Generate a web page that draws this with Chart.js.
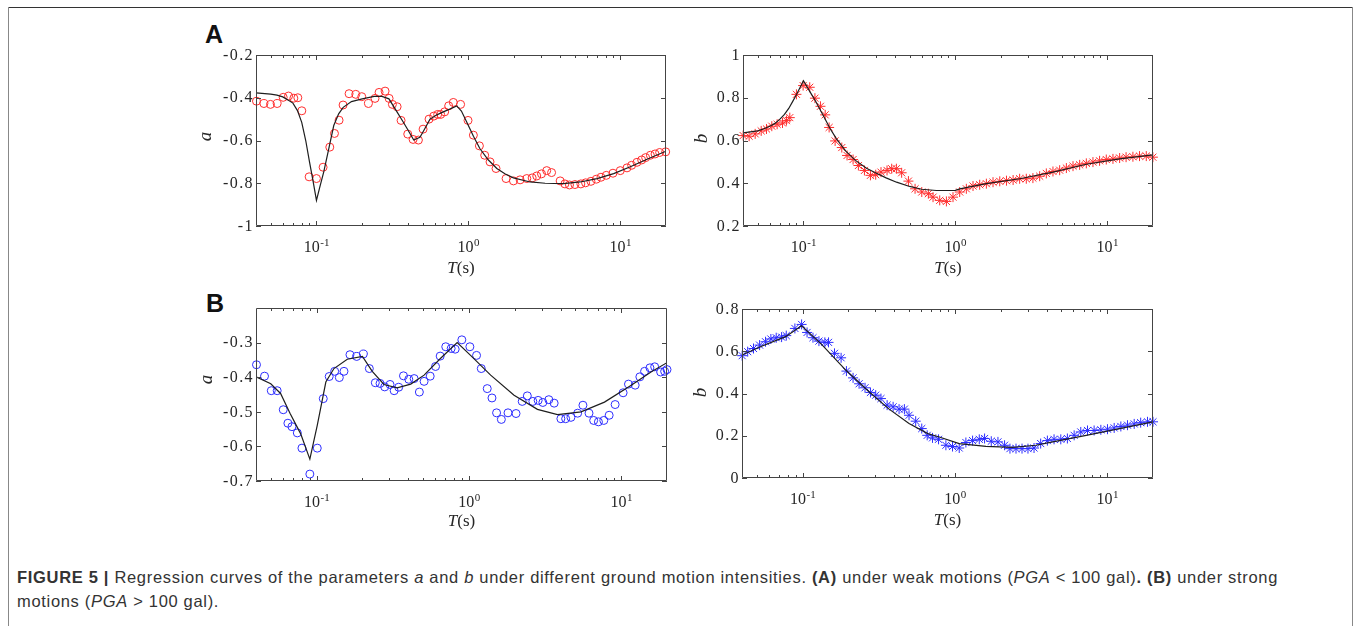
<!DOCTYPE html>
<html>
<head>
<meta charset="utf-8">
<script src="https://cdn.jsdelivr.net/npm/chart.js@4.4.1/dist/chart.umd.min.js"></script>
<style>
  body { margin: 0; background: #fff; }
  #fig { position: relative; width: 1356px; height: 626px; overflow: hidden; background: #fff; }
  #fig canvas { position: absolute; }
  .linea { position: absolute; }
  .letra { position: absolute; font: bold 25px "Liberation Sans", Arial, sans-serif; line-height: 25px; color: #111; }
  #caption { position: absolute; left: 17px; top: 565px; font: 16.5px "Liberation Sans", Arial, sans-serif;
             line-height: 24px; color: #333; white-space: nowrap; }
</style>
</head>
<body>
<div id="fig">
  <div class="linea" style="left:8px;top:7px;width:1345px;height:1px;background:#333"></div>
  <div class="linea" style="left:8px;top:7px;width:1px;height:630px;background:#888"></div>
  <div class="linea" style="left:1352px;top:7px;width:1px;height:630px;background:#888"></div>

  <div class="letra" style="left:205px;top:22px">A</div>
  <div class="letra" style="left:206px;top:291px">B</div>

  <canvas id="chartAa"></canvas>
  <canvas id="chartAb"></canvas>
  <canvas id="chartBa"></canvas>
  <canvas id="chartBb"></canvas>

  <div id="caption"><span id="line1"><b>FIGURE 5 |</b> Regression curves of the parameters <i>a</i> and <i>b</i> under different ground motion intensities. <b>(A)</b> under weak motions (<i>PGA</i> &lt; 100 gal)<b>.</b> <b>(B)</b> under strong</span><br><span>motions (<i>PGA</i> &gt; 100 gal).</span></div>
</div>

<script>
// ---- datos ----
var xMin = 0.04, xMax = 20;
var decadas = [0.1, 1, 10];
var exponentes = ["-1", "0", "1"];

// A: PGA < 100 gal, parametro a
var periodoAa = [0.0403, 0.0451, 0.0498, 0.0551, 0.0604, 0.0655, 0.071, 0.0754, 0.0801, 0.0895, 0.1, 0.1106,
  0.1224, 0.1314, 0.1409, 0.1497, 0.164, 0.1814, 0.1987, 0.2198, 0.243, 0.2583, 0.283, 0.3008, 0.3162, 0.3396,
  0.3606, 0.399, 0.4325, 0.469, 0.5035, 0.551, 0.5916, 0.628, 0.657, 0.698, 0.742, 0.796, 0.889, 0.995, 1.079,
  1.182, 1.281, 1.389, 1.521, 1.771, 1.981, 2.191, 2.424, 2.63, 2.82, 3.03, 3.28, 3.53, 4.02, 4.32, 4.63, 5.03,
  5.5, 5.91, 6.41, 6.95, 7.46, 8.09, 8.95, 10, 11.07, 11.88, 12.88, 13.83, 14.69, 15.78, 16.94, 18.17, 19.9];
var valorAa = [-0.416, -0.427, -0.431, -0.427, -0.398, -0.392, -0.402, -0.4, -0.461, -0.77, -0.778, -0.725,
  -0.631, -0.567, -0.505, -0.434, -0.381, -0.384, -0.395, -0.427, -0.403, -0.375, -0.369, -0.403, -0.431, -0.442,
  -0.506, -0.57, -0.595, -0.598, -0.547, -0.5, -0.486, -0.478, -0.478, -0.466, -0.438, -0.422, -0.431, -0.506, -0.575,
  -0.625, -0.669, -0.7, -0.731, -0.778, -0.789, -0.784, -0.778, -0.775, -0.766, -0.756, -0.741, -0.75, -0.789, -0.803,
  -0.808, -0.806, -0.803, -0.798, -0.791, -0.781, -0.772, -0.763, -0.753, -0.741, -0.728, -0.716, -0.702, -0.691,
  -0.68, -0.669, -0.663, -0.656, -0.653];
var ajustePeriodoAa = [0.04, 0.05, 0.055, 0.06, 0.065, 0.07, 0.075, 0.08, 0.085, 0.09, 0.095, 0.1, 0.105, 0.1117,
  0.12, 0.13, 0.14, 0.15, 0.17, 0.2, 0.24, 0.27, 0.3, 0.339, 0.37, 0.395, 0.437, 0.48, 0.51, 0.559, 0.62, 0.684, 0.76,
  0.838, 0.9, 0.975, 1.08, 1.19, 1.35, 1.54, 1.75, 1.98, 2.55, 3.2, 4.23, 5.45, 7.03, 9.05, 11.65, 15, 20];
var ajusteAa = [-0.377, -0.383, -0.388, -0.396, -0.41, -0.425, -0.46, -0.515, -0.6, -0.7, -0.79, -0.88, -0.82,
  -0.747, -0.645, -0.53, -0.475, -0.445, -0.418, -0.405, -0.394, -0.394, -0.405, -0.466, -0.51, -0.544, -0.598,
  -0.585, -0.552, -0.5, -0.48, -0.466, -0.452, -0.438, -0.462, -0.513, -0.58, -0.6375, -0.69, -0.731, -0.757,
  -0.775, -0.794, -0.8, -0.802, -0.794, -0.778, -0.755, -0.723, -0.6875, -0.65];

// A: parametro b
var periodoAb = [0.0401, 0.0439, 0.0481, 0.0527, 0.0571, 0.0619, 0.0671, 0.0728, 0.0773, 0.0813, 0.0899, 0.0995,
  0.11, 0.119, 0.1294, 0.139, 0.1476, 0.1616, 0.1788, 0.1937, 0.2122, 0.23, 0.252, 0.276, 0.299, 0.324, 0.355,
  0.381, 0.409, 0.443, 0.491, 0.543, 0.601, 0.664, 0.713, 0.789, 0.873, 0.965, 1.068, 1.181, 1.307, 1.446, 1.6,
  1.77, 1.96, 2.17, 2.4, 2.65, 2.93, 3.24, 3.59, 3.97, 4.39, 4.86, 5.38, 5.95, 6.58, 7.28, 8.05, 8.9, 9.85, 10.9,
  12.06, 13.3, 14.75, 16.3, 18.06, 19.96];
var valorAb = [0.623, 0.62, 0.631, 0.645, 0.654, 0.667, 0.676, 0.682, 0.693, 0.707, 0.816, 0.857, 0.849, 0.798,
  0.76, 0.72, 0.661, 0.598, 0.567, 0.53, 0.511, 0.483, 0.46, 0.437, 0.44, 0.452, 0.46, 0.468, 0.468, 0.449, 0.41,
  0.374, 0.359, 0.351, 0.335, 0.32, 0.315, 0.335, 0.359, 0.374, 0.387, 0.393, 0.398, 0.405, 0.409, 0.412, 0.415,
  0.421, 0.421, 0.424, 0.433, 0.446, 0.455, 0.461, 0.471, 0.48, 0.486, 0.493, 0.499, 0.505, 0.511, 0.514, 0.518,
  0.522, 0.524, 0.527, 0.527, 0.522];
var ajustePeriodoAb = [0.04, 0.05, 0.055, 0.06, 0.065, 0.07, 0.075, 0.08, 0.085, 0.09, 0.095, 0.1, 0.11, 0.12,
  0.135, 0.15, 0.165, 0.19, 0.22, 0.26, 0.3, 0.35, 0.41, 0.5, 0.6, 0.75, 0.9, 1, 1.07, 1.6, 2.65, 4.39, 7.28, 12.06, 20];
var ajusteAb = [0.636, 0.645, 0.655, 0.667, 0.68, 0.7, 0.722, 0.75, 0.783, 0.815, 0.848, 0.88, 0.83, 0.785,
  0.717, 0.655, 0.608, 0.55, 0.507, 0.47, 0.448, 0.425, 0.405, 0.385, 0.372, 0.366, 0.366, 0.367, 0.374, 0.398,
  0.421, 0.452, 0.489, 0.514, 0.533];

// B: PGA > 100 gal, parametro a
var periodoBa = [0.0403, 0.0455, 0.0504, 0.0551, 0.0604, 0.0648, 0.0689, 0.0747, 0.0801, 0.0903, 0.101, 0.1106,
  0.121, 0.1314, 0.141, 0.1513, 0.1656, 0.1833, 0.2028, 0.222, 0.243, 0.261, 0.28, 0.3035, 0.323, 0.346, 0.372,
  0.403, 0.437, 0.473, 0.508, 0.557, 0.604, 0.648, 0.705, 0.765, 0.813, 0.899, 1.015, 1.123, 1.206, 1.32, 1.418,
  1.52, 1.634, 1.807, 2.04, 2.24, 2.42, 2.63, 2.85, 3.06, 3.35, 3.63, 4.02, 4.32, 4.68, 5.18, 5.61, 6.15, 6.6, 7.09,
  7.69, 8.34, 9.13, 10.3, 11.17, 12.36, 13.27, 14.25, 15.45, 16.6, 18.17, 19.3, 20];
var valorBa = [-0.364, -0.397, -0.439, -0.439, -0.494, -0.533, -0.543, -0.561, -0.605, -0.68, -0.605, -0.462,
  -0.398, -0.383, -0.401, -0.383, -0.335, -0.34, -0.333, -0.375, -0.416, -0.418, -0.428, -0.421, -0.439, -0.429,
  -0.396, -0.406, -0.404, -0.443, -0.412, -0.397, -0.369, -0.339, -0.312, -0.317, -0.319, -0.292, -0.312, -0.337,
  -0.375, -0.433, -0.46, -0.503, -0.522, -0.503, -0.505, -0.47, -0.454, -0.47, -0.467, -0.473, -0.465, -0.475,
  -0.52, -0.52, -0.516, -0.504, -0.481, -0.504, -0.525, -0.529, -0.525, -0.51, -0.479, -0.445, -0.42, -0.423,
  -0.399, -0.383, -0.373, -0.37, -0.385, -0.383, -0.378];
var ajustePeriodoBa = [0.04, 0.05, 0.058, 0.067, 0.0785, 0.0903, 0.101, 0.115, 0.13, 0.159, 0.2, 0.232, 0.277,
  0.338, 0.415, 0.508, 0.65, 0.838, 1.026, 1.39, 1.98, 2.82, 3.82, 5.45, 7.77, 11.65, 15.7, 20];
var ajusteBa = [-0.399, -0.419, -0.447, -0.505, -0.563, -0.637, -0.539, -0.414, -0.375, -0.348, -0.34, -0.383,
  -0.421, -0.431, -0.42, -0.394, -0.346, -0.3, -0.337, -0.394, -0.452, -0.493, -0.508, -0.5, -0.472, -0.423,
  -0.385, -0.358];

// B: parametro b
var periodoBb = [0.0401, 0.0436, 0.0476, 0.0522, 0.0571, 0.0619, 0.0671, 0.0728, 0.0781, 0.089, 0.0985, 0.107,
  0.117, 0.128, 0.14, 0.148, 0.162, 0.179, 0.194, 0.2145, 0.235, 0.257, 0.279, 0.302, 0.327, 0.359, 0.393, 0.43,
  0.466, 0.5, 0.553, 0.606, 0.658, 0.713, 0.781, 0.873, 0.965, 1.068, 1.181, 1.307, 1.446, 1.567, 1.734, 1.918,
  2.12, 2.3, 2.52, 2.76, 3.02, 3.31, 3.66, 4.05, 4.48, 4.96, 5.48, 6.07, 6.71, 7.43, 8.21, 9.09, 10.05, 11.12,
  12.3, 13.6, 15.05, 16.6, 18.4, 20];
var valorBb = [0.579, 0.598, 0.613, 0.629, 0.645, 0.658, 0.664, 0.667, 0.674, 0.708, 0.727, 0.689, 0.664, 0.648,
  0.642, 0.642, 0.59, 0.569, 0.506, 0.474, 0.446, 0.427, 0.405, 0.392, 0.376, 0.345, 0.337, 0.326, 0.326, 0.297,
  0.269, 0.234, 0.202, 0.19, 0.183, 0.155, 0.149, 0.142, 0.168, 0.177, 0.183, 0.187, 0.174, 0.171, 0.155, 0.139,
  0.139, 0.139, 0.139, 0.142, 0.163, 0.177, 0.183, 0.183, 0.187, 0.202, 0.218, 0.225, 0.225, 0.228, 0.231, 0.237,
  0.244, 0.25, 0.256, 0.262, 0.266, 0.266];
var ajustePeriodoBb = [0.04, 0.0543, 0.0773, 0.0985, 0.1347, 0.192, 0.273, 0.37, 0.5, 0.664, 0.79, 1.068, 1.6,
  2.4, 3.4, 4.39, 7.28, 12.06, 20];
var ajusteBb = [0.582, 0.625, 0.669, 0.721, 0.629, 0.511, 0.408, 0.326, 0.258, 0.21, 0.194, 0.163, 0.15, 0.145,
  0.155, 0.171, 0.202, 0.234, 0.266];

// ticks del eje y
var yTicksAa = [-1, -0.8, -0.6, -0.4, -0.2];
var yEtiquetasAa = ["-1", "-0.8", "-0.6", "-0.4", "-0.2"];
var yTicksAb = [0.2, 0.4, 0.6, 0.8, 1];
var yEtiquetasAb = ["0.2", "0.4", "0.6", "0.8", "1"];
var yTicksBa = [-0.7, -0.6, -0.5, -0.4, -0.3];
var yEtiquetasBa = ["-0.7", "-0.6", "-0.5", "-0.4", "-0.3"];
var yTicksBb = [0, 0.2, 0.4, 0.6, 0.8];
var yEtiquetasBb = ["0", "0.2", "0.4", "0.6", "0.8"];

var rojo = "rgb(255,45,45)";
var azul = "rgb(45,45,255)";
var serif = "'Liberation Serif', 'Times New Roman', serif";

function puntos(xs, ys) {
  var out = [];
  for (var i = 0; i < xs.length; i++) out.push({ x: xs[i], y: ys[i] });
  return out;
}

// marco, ticks hacia adentro y etiquetas al estilo matlab
function ejesPlugin(p) {
  return {
    id: "ejes",
    afterDatasetsDraw: function (chart) {
      var ctx = chart.ctx;
      var area = chart.chartArea;
      var sx = chart.scales.x;
      var sy = chart.scales.y;
      ctx.save();
      ctx.strokeStyle = "#444";
      ctx.lineWidth = 1;
      ctx.beginPath();
      ctx.rect(area.left + 0.5, area.top + 0.5, area.right - area.left - 1, area.bottom - area.top - 1);

      // ticks menores y mayores en x (abajo y arriba)
      [0.01, 0.1, 1, 10].forEach(function (d) {
        for (var k = 1; k <= 9; k++) {
          var v = k * d;
          if (v <= xMin || v >= xMax) continue;
          var px = Math.round(sx.getPixelForValue(v)) + 0.5;
          var largo = k == 1 ? 5 : 3;
          ctx.moveTo(px, area.bottom); ctx.lineTo(px, area.bottom - largo);
          ctx.moveTo(px, area.top); ctx.lineTo(px, area.top + largo);
        }
      });
      // ticks en y (izquierda y derecha)
      p.yTicks.forEach(function (v) {
        var py = Math.round(sy.getPixelForValue(v)) + 0.5;
        ctx.moveTo(area.left, py); ctx.lineTo(area.left + 5, py);
        ctx.moveTo(area.right, py); ctx.lineTo(area.right - 5, py);
      });
      ctx.stroke();

      ctx.fillStyle = "#262626";
      // etiquetas y
      ctx.font = "16px " + serif;
      ctx.textAlign = "right";
      ctx.textBaseline = "middle";
      if ("letterSpacing" in ctx) ctx.letterSpacing = "1.4px";
      p.yTicks.forEach(function (v, i) {
        ctx.fillText(p.yEtiquetas[i], area.left - 2, sy.getPixelForValue(v) + 0.5);
      });
      if ("letterSpacing" in ctx) ctx.letterSpacing = "0px";

      // etiquetas x: 10 con exponente
      ctx.textAlign = "left";
      ctx.textBaseline = "alphabetic";
      decadas.forEach(function (v, i) {
        var px = sx.getPixelForValue(v);
        ctx.font = "16px " + serif;
        var w10 = ctx.measureText("10").width;
        ctx.font = "11px " + serif;
        var wE = ctx.measureText(exponentes[i]).width;
        var x0 = px - (w10 + wE) / 2;
        ctx.font = "16px " + serif;
        ctx.fillText("10", x0, area.bottom + 26);
        ctx.font = "11px " + serif;
        ctx.fillText(exponentes[i], x0 + w10 + 0.5, area.bottom + 20);
      });

      // titulo x: T(s)
      var cx = (area.left + area.right) / 2;
      ctx.font = "italic 17px " + serif;
      var wT = ctx.measureText("T").width;
      ctx.font = "17px " + serif;
      var wS = ctx.measureText("(s)").width;
      var xt = cx - (wT + wS) / 2;
      ctx.font = "italic 17px " + serif;
      ctx.fillText("T", xt, area.bottom + p.xTituloDy);
      ctx.font = "17px " + serif;
      ctx.fillText("(s)", xt + wT, area.bottom + p.xTituloDy);

      // titulo y
      ctx.translate(area.left - p.yTituloDx, (area.top + area.bottom) / 2 + p.yTituloDy);
      ctx.rotate(-Math.PI / 2);
      ctx.font = "italic 19px " + serif;
      ctx.textAlign = "center";
      ctx.textBaseline = "middle";
      ctx.fillText(p.yTitulo, 0, 0);
      ctx.restore();
    }
  };
}

function crearPanel(id, p) {
  var canvas = document.getElementById(id);
  var izq = 70, der = 10, arr = 15, aba = 60;
  canvas.width = p.caja[2] - p.caja[0] + izq + der;
  canvas.height = p.caja[3] - p.caja[1] + arr + aba;
  canvas.style.left = (p.caja[0] - izq) + "px";
  canvas.style.top = (p.caja[1] - arr) + "px";

  var marcador = {
    data: puntos(p.xs, p.ys),
    showLine: false,
    pointStyle: p.estilo,
    pointRadius: p.estilo == "star" ? 5 : 4,
    pointBorderColor: p.color,
    pointBackgroundColor: "rgba(0,0,0,0)",
    pointBorderWidth: 1,
    clip: false
  };
  var ajuste = {
    data: puntos(p.fitX, p.fitY),
    showLine: true,
    borderColor: "#1e1e1e",
    borderWidth: 1.2,
    pointRadius: 0,
    tension: 0
  };

  new Chart(canvas, {
    type: "scatter",
    data: { datasets: [ajuste, marcador] },
    options: {
      responsive: false,
      animation: false,
      devicePixelRatio: 1,
      events: [],
      layout: { padding: { left: izq, right: der, top: arr, bottom: aba } },
      plugins: { legend: { display: false }, tooltip: { enabled: false } },
      scales: {
        x: { type: "logarithmic", min: xMin, max: xMax, display: false },
        y: { type: "linear", min: p.yMin, max: p.yMax, display: false }
      }
    },
    plugins: [ejesPlugin(p)]
  });
}

crearPanel("chartAa", {
  caja: [256, 55, 666, 226], xs: periodoAa, ys: valorAa, fitX: ajustePeriodoAa, fitY: ajusteAa,
  yMin: -1, yMax: -0.2, yTicks: yTicksAa, yEtiquetas: yEtiquetasAa, color: rojo, estilo: "circle",
  yTitulo: "a", yTituloDx: 50, yTituloDy: -4, xTituloDy: 47
});
crearPanel("chartAb", {
  caja: [743, 55, 1153, 226], xs: periodoAb, ys: valorAb, fitX: ajustePeriodoAb, fitY: ajusteAb,
  yMin: 0.2, yMax: 1, yTicks: yTicksAb, yEtiquetas: yEtiquetasAb, color: rojo, estilo: "star",
  yTitulo: "b", yTituloDx: 41, yTituloDy: -2, xTituloDy: 47
});
crearPanel("chartBa", {
  caja: [256, 308, 667, 481], xs: periodoBa, ys: valorBa, fitX: ajustePeriodoBa, fitY: ajusteBa,
  yMin: -0.7, yMax: -0.2, yTicks: yTicksBa, yEtiquetas: yEtiquetasBa, color: azul, estilo: "circle",
  yTitulo: "a", yTituloDx: 49, yTituloDy: -15, xTituloDy: 45
});
crearPanel("chartBb", {
  caja: [742, 309, 1153, 478], xs: periodoBb, ys: valorBb, fitX: ajustePeriodoBb, fitY: ajusteBb,
  yMin: 0, yMax: 0.8, yTicks: yTicksBb, yEtiquetas: yEtiquetasBb, color: azul, estilo: "star",
  yTitulo: "b", yTituloDx: 41, yTituloDy: -1, xTituloDy: 47
});

// ajustar el ancho de la leyenda a la figura original
var linea1 = document.getElementById("line1");
var ancho = linea1.getBoundingClientRect().width;
var espacio = (1261 - ancho) / linea1.textContent.length;
document.getElementById("caption").style.letterSpacing = espacio.toFixed(3) + "px";
</script>
</body>
</html>
